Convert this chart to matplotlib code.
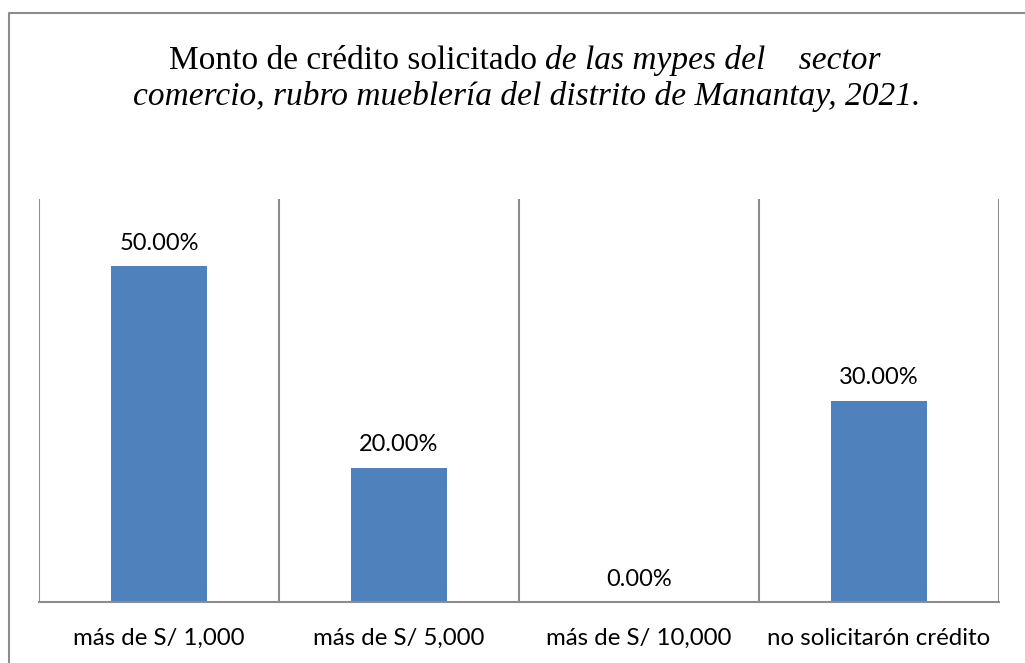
import matplotlib.pyplot as plt
from matplotlib.lines import Line2D

categorias = ['más de S/ 1,000', 'más de S/ 5,000', 'más de S/ 10,000', 'no solicitarón crédito']
valores = [0.50, 0.20, 0.00, 0.30]
etiquetas = ['50.00%', '20.00%', '0.00%', '30.00%']

W, H = 1025, 663
fig = plt.figure(figsize=(W / 100, H / 100), dpi=100)

# marco exterior (abierto a la derecha y abajo)
fig.add_artist(Line2D([9 / W, 9 / W, 1.0], [0.0, 1 - 13 / H, 1 - 13 / H],
                      transform=fig.transFigure, color='#8c8c8c', lw=1.5))

ax = fig.add_axes([39 / W, 1 - 602 / H, (999 - 39) / W, (602 - 199) / H])
x = range(len(categorias))
ax.bar(x, valores, width=0.4, color='#4f81bd')
ax.set_xlim(-0.5, len(categorias) - 0.5)
ax.set_ylim(0, 0.6)

for i, (v, t) in enumerate(zip(valores, etiquetas)):
    ax.annotate(t, (i, v), xytext=(0, 9), textcoords='offset points',
                ha='center', va='bottom', fontsize=17, family='Lato')

ax.set_yticks([])
ax.set_xticks(list(x))
ax.set_xticklabels(categorias, fontsize=17.3, family='Lato')
ax.set_xticks([i - 0.5 for i in range(len(categorias) + 1)], minor=True)
ax.tick_params(axis='x', which='both', length=0, pad=18.5)
ax.grid(True, which='minor', axis='x', color='#8c8c8c', lw=1.5)
ax.grid(False, which='major')
for s in ['left', 'right', 'top']:
    ax.spines[s].set_visible(False)
ax.spines['bottom'].set_color('#8c8c8c')
ax.spines['bottom'].set_linewidth(1.5)

# título: primera parte normal, resto en cursiva
fig.canvas.draw()
r = fig.canvas.get_renderer()
ts = 24
t1 = fig.text(0, 0, 'Monto de crédito solicitado ', fontsize=ts, family='Liberation Serif')
t2 = fig.text(0, 0, 'de las mypes del    sector', fontsize=ts, family='Liberation Serif', style='italic')
w1 = t1.get_window_extent(r).width
w2 = t2.get_window_extent(r).width
x0 = 525 - (w1 + w2) / 2
y1 = 1 - 61 / H
t1.set_position((x0 / W, y1))
t2.set_position(((x0 + w1) / W, y1))
t1.set_va('center')
t2.set_va('center')
fig.text(527 / W, 1 - 96 / H,
         'comercio, rubro mueblería del distrito de Manantay, 2021.',
         fontsize=ts, family='Liberation Serif', style='italic', ha='center', va='center')

fig.savefig('out.png', dpi=100)
